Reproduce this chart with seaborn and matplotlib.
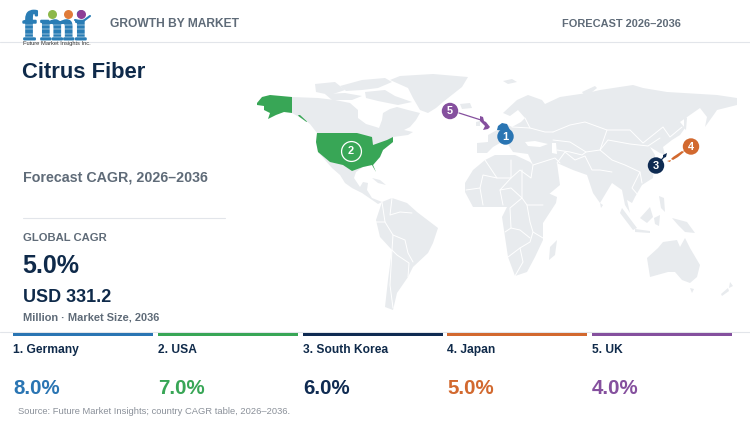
import matplotlib
matplotlib.use("Agg")
import matplotlib.pyplot as plt
import matplotlib.patheffects as pe
import seaborn as sns
import pandas as pd

# ---- chart values ----
countries = ["Germany", "USA", "South Korea", "Japan", "UK"]
cagr = [8.0, 7.0, 6.0, 5.0, 4.0]
ranks = ["1", "2", "3", "4", "5"]
global_cagr = 5.0
market_size = 331.2

# ---- styles ----
colors = ["#2A75B3", "#38A656", "#0F2B52", "#D2692F", "#85509E"]
NAVY = "#0F2A4A"
GREY = "#5F6B78"
LAND = "#E8EBEE"

# ---- marker anchors on the map ----
marker_x = [505.5, 350.5, 656, 691, 450]
marker_y = [136.5, 151, 165.5, 146.5, 111]

# ---- land outlines ----
north_america = [(292,97),(318,98),(335,100),(350,103),(358,110),(358,118),(366,124),(376,127),(379,128),(382,120),(383,113),(390,109),(397,107),(408,110),(420,113),(416,120),(410,127),(404,130),(413,132),(408,135),(393,137),
    (393,142),(383,150),(380,157),(373,165),(376,172),(372,165),(363,167),(356,172),(354,178),(360,187),(363,182),(368,183),(367,190),(372,198),(382,202),(378,204),(362,193),(352,188),(345,183),(340,175),(332,168),(318,152),(316,140),(317,133),(310,124),(306,121),(292,113)]
arctic_a = [(340,86),(362,80),(385,78),(392,82),(378,88),(362,90),(346,91)]
arctic_b = [(315,84),(335,82),(345,90),(330,95),(316,92)]
arctic_c = [(325,94),(345,93),(362,96),(352,100),(332,100)]
arctic_d = [(365,92),(385,90),(395,96),(412,102),(398,105),(378,101),(366,98)]
greenland = [(400,76),(433,74),(468,77),(462,87),(443,102),(436,108),(428,113),(420,110),(413,98),(408,88),(390,80)]
south_america = [(382,202),(392,198),(407,203),(417,212),(438,228),(433,243),(428,253),(413,267),(408,277),(397,293),(393,310),(385,307),(388,280),(392,250),(380,237),(376,220)]
cuba = [(372,178),(380,180),(386,185),(378,183)]
africa = [(465,183),(473,170),(485,160),(495,155),(515,155),(530,162),(533,165),(537,170),(548,193),(557,197),(556,203),(543,223),(543,240),(535,257),(527,272),(515,276),(508,257),(505,237),(502,217),(507,207),(493,207),(473,207),(465,192)]
madagascar = [(557,240),(555,255),(549,260),(550,247)]
eurasia = [(477,143),(488,142),(488,135),(497,130),(500,124),(506,124),(512,127),(521,122),(525,118),(518,110),(510,116),(503,113),(517,100),(528,95),(542,100),(545,104),(560,97),(587,93),(600,90),(633,85),(643,88),(667,92),(717,95),(737,98),(737,105),(717,110),(715,113),(705,127),(707,117),(700,108),(690,115),(680,122),(685,128),(680,135),(672,140),(663,147),(665,155),(660,153),(655,150),(650,147),(655,155),(653,178),(642,185),(635,197),(632,203),(627,200),(630,213),(625,205),(622,190),(612,183),(600,203),(593,193),(587,175),(573,170),(557,163),(560,185),(548,195),(540,187),(533,165),(528,154),(513,152),(507,143),(500,143),(493,147),(487,153),(477,153)]
black_sea = [(525,142),(535,141),(548,144),(540,147),(528,146)]
caspian = [(552,143),(556,143),(557,154),(552,153)]
svalbard = [(503,81),(512,79),(517,82),(508,84)]
iceland = [(460,104),(470,103),(472,108),(462,109)]
ireland = [(476,122),(480,121),(480,126),(476,126)]
novaya = [(582,92),(595,86),(597,88),(586,97)]
sakhalin = [(684,115),(687,118),(686,130),(684,128)]
sri_lanka = [(600,203),(603,205),(601,208)]
philippines = [(659,196),(664,198),(665,212),(661,208)]
sumatra = [(622,208),(637,228),(633,230),(620,213)]
java = [(635,229),(650,231),(650,233),(635,232)]
borneo = [(640,218),(650,207),(653,217),(647,223)]
sulawesi = [(654,218),(660,215),(659,226),(655,224)]
new_guinea = [(672,218),(687,222),(695,233),(685,232),(678,225)]
australia = [(647,258),(658,248),(663,242),(677,240),(680,247),(685,238),(690,248),(700,265),(697,277),(690,283),(682,280),(675,272),(668,272),(650,277)]
tasmania = [(690,288),(694,289),(692,293)]
nz_north = [(730,282),(733,286),(729,288)]
nz_south = [(728,288),(729,291),(722,296),(721,294)]

land_shapes = [north_america, arctic_a, arctic_b, arctic_c, arctic_d, greenland, south_america, cuba, africa,
    madagascar, eurasia, svalbard, iceland, ireland, novaya, sakhalin, sri_lanka, philippines, sumatra, java,
    borneo, sulawesi, new_guinea, australia, tasmania, nz_north, nz_south]
water_shapes = [black_sea, caspian]

# ---- market shapes ----
usa_shape = [(317,133),(357,133),(372,137),(373,145),(387,140),(393,137),(393,142),(383,150),(380,157),(373,165),(376,172),(372,165),(363,167),(352,171),(343,165),(330,162),(318,152),(316,142)]
alaska_shape = [(257,103),(262,97),(270,95),(292,97),(292,113),(284,112),(276,115),(268,119),(270,113),(264,110),(264,106),(257,105)]
panhandle_shape = [(298,115),(300,115),(307,121.5),(306.5,122),(299,116.5)]
uk_shape = [(480,116),(483,117),(484,121),(486,122),(490,127),(488,129),(483,130),(485,126),(482,123),(480,121)]
germany_shape = [(497,130),(498,126),(502,123),(507,124),(510,130),(505,131)]
korea_shape = [(663,155),(667,153),(666,157),(663,158)]
japan_shape = [(671,159),(673,157),(682,151),(684,152),(678,157),(673,160)]
japan_small = [(667,161),(671,160),(670,162)]

# ---- border polylines ----
borders = [
    [(553,132),(570,125),(585,122),(607,130),(630,130),(643,143),(663,127),(670,137),(682,127)],
    [(553,140),(570,142),(586,152),(600,150),(608,140),(630,144),(648,146),(660,138)],
    [(607,130),(600,150),(612,160),(625,165),(640,172),(642,183)],
    [(557,150),(570,152),(582,155),(586,152)],
    [(557,163),(565,152),(575,160),(585,156),(592,170),(600,170),(612,172)],
    [(533,165),(555,158),(560,163)],
    [(512,127),(530,128),(545,132),(553,132)],
    [(525,118),(530,128)],
    [(640,172),(632,188),(638,195)],
    [(485,160),(497,178),(511,178),(520,170),(531,178),(533,165)],
    [(511,160),(511,178),(500,190),(503,205)],
    [(466,190),(480,188),(483,175),(497,178)],
    [(480,188),(483,205)],
    [(500,190),(511,188),(522,198),(527,205),(543,205)],
    [(522,170),(522,198),(510,208),(511,228),(505,232)],
    [(527,205),(530,222),(533,232),(543,238)],
    [(508,257),(520,248),(530,242),(533,232)],
    [(511,228),(520,230),(530,238)],
    [(520,248),(523,262),(515,276)],
    [(382,202),(385,222),(376,222)],
    [(392,198),(390,215),(400,212),(412,213)],
    [(385,222),(393,235),(405,240),(408,253),(413,262)],
    [(393,235),(392,250),(397,255),(409,263),(408,277)],
    [(392,250),(390,285),(393,308)],
]

# ---- texts ----
title = "Citrus Fiber"
header_left = "GROWTH BY MARKET"
header_right = "FORECAST 2026–2036"
subtitle = "Forecast CAGR, 2026–2036"
global_label = "GLOBAL CAGR"
size_note = "Million · Market Size, 2036"
source = "Source: Future Market Insights; country CAGR table, 2026–2036."

sns.set_theme(style="white")
plt.rcParams["font.family"] = ["Liberation Sans", "DejaVu Sans"]

fig = plt.figure(figsize=(7.5, 4.21), dpi=100, facecolor="white")
ax = fig.add_axes([0, 0, 1, 1])
ax.axis("off")

def px(size):
    return size * 0.72

for shape in land_shapes:
    ax.fill(*zip(*shape), color=LAND, lw=0, zorder=1)
for shape in water_shapes:
    ax.fill(*zip(*shape), color="white", lw=0, zorder=1.1)
for line in borders:
    ax.plot(*zip(*line), color="white", lw=0.7, zorder=1.5)

# highlighted markets
ax.fill(*zip(*germany_shape), color=colors[0], lw=0, zorder=2)
for shape in (usa_shape, alaska_shape, panhandle_shape):
    ax.fill(*zip(*shape), color=colors[1], lw=0, zorder=2)
ax.fill(*zip(*korea_shape), color=colors[2], lw=0, zorder=2)
for shape in (japan_shape, japan_small):
    ax.fill(*zip(*shape), color=colors[3], lw=0, zorder=2)
ax.fill(*zip(*uk_shape), color=colors[4], lw=0, zorder=2)

# leader lines
ax.plot([459, 481], [113, 120], color=colors[4], lw=0.9, zorder=2.5)
ax.plot([684, 691], [151, 146.5], color=colors[3], lw=0.9, zorder=2.5)
ax.plot([664, 656], [157, 165.5], color=colors[2], lw=0.9, zorder=2.5)

# numbered markers
df = pd.DataFrame({"country": countries, "x": marker_x, "y": marker_y})
sns.scatterplot(data=df, x="x", y="y", hue="country", palette=dict(zip(countries, colors)),
                s=140, linewidth=0, legend=False, ax=ax, zorder=3)
ax.scatter([marker_x[1]], [marker_y[1]], s=205, facecolor=colors[1], edgecolor="white", linewidth=0.9, zorder=3.2)
for r, x, y in zip(ranks, marker_x, marker_y):
    ax.text(x, y + 0.3, r, color="white", fontsize=px(11), fontweight="bold", ha="center", va="center", zorder=4)

ax.set_xlim(0, 750)
ax.set_ylim(421, 0)
ax.set_xlabel("")
ax.set_ylabel("")

# header
ax.plot([0, 750], [42, 42], color="#E2E5EA", lw=0.8, zorder=0)
ax.text(110, 27, header_left, color=GREY, fontsize=px(12), fontweight="bold", va="baseline")
ax.text(562, 27, header_right, color=GREY, fontsize=px(11), fontweight="bold", va="baseline")

# logo
LOGO = "#2A7DB5"
for glyph, gx in zip("fmi", (23, 40, 75)):
    ax.text(gx, 39.5, glyph, color=LOGO, fontsize=px(41), fontweight="bold", family="Liberation Serif", va="baseline", zorder=5,
            path_effects=[pe.withStroke(linewidth=1.4, foreground=LOGO)])
for yy in (24.5, 29, 33.5, 37):
    ax.plot([20, 92], [yy, yy], color="white", lw=0.35, zorder=5.5)
for cx, c in zip((52, 67.5, 81), ("#8DB84A", "#E07B39", "#8E3E96")):
    ax.scatter([cx], [14], s=42, color=c, linewidth=0, zorder=6)
ax.plot([75, 82, 90], [20, 22, 16], color=LOGO, lw=1.5, zorder=6)
ax.text(23, 45.5, "Future Market Insights Inc.", color="#333333", fontsize=px(5.8), va="baseline", zorder=6)

# left column
ax.text(22, 78, title, color=NAVY, fontsize=px(22), fontweight="bold", va="baseline")
ax.text(23, 182, subtitle, color=GREY, fontsize=px(14.2), fontweight="bold", va="baseline")
ax.plot([23, 225], [218, 218], color="#E2E5EA", lw=0.8)
ax.text(23, 241, global_label, color=GREY, fontsize=px(11.2), fontweight="bold", va="baseline")
ax.text(22.5, 273, f"{global_cagr:.1f}%", color=NAVY, fontsize=px(25), fontweight="bold", va="baseline")
ax.text(23, 302, f"USD {market_size:.1f}", color=NAVY, fontsize=px(18), fontweight="bold", va="baseline")
ax.text(23, 320, size_note, color=GREY, fontsize=px(11), fontweight="bold", va="baseline")

# bottom strip
ax.plot([0, 750], [331.5, 331.5], color="#E2E5EA", lw=0.8, zorder=0)
strip_left = [13, 158, 303, 447, 592]
strip_width = 140
for i, (name, value, c, r) in enumerate(zip(countries, cagr, colors, ranks)):
    x0 = strip_left[i]
    ax.fill_between([x0, x0 + strip_width], 333, 336.2, color=c, lw=0, zorder=2)
    ax.text(x0, 353, f"{r}. {name}", color=NAVY, fontsize=px(12), fontweight="bold", va="baseline")
    ax.text(x0, 394, f"{value:.1f}%", color=c, fontsize=px(20.5), fontweight="bold", va="baseline")
ax.text(18, 414, source, color="#8A9099", fontsize=px(9.35), va="baseline")

fig.savefig("out.png", dpi=100, facecolor="white")
